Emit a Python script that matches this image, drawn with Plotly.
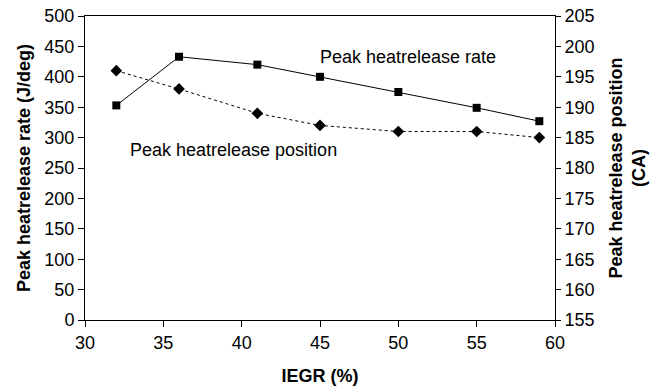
import plotly.graph_objects as go

iegr = [32, 36, 41, 45, 50, 55, 59]
hr_rate = [353, 433, 420, 400, 375, 349, 327]
hr_pos = [196, 193, 189, 187, 186, 186, 185]

font = "Liberation Sans, Arial, sans-serif"
FS = 18

fig = go.Figure()
fig.add_trace(go.Scatter(x=iegr, y=hr_rate, mode="lines+markers",
                         line=dict(color="black", width=1),
                         marker=dict(symbol="square", size=8, color="black"),
                         showlegend=False))
fig.add_trace(go.Scatter(x=iegr, y=hr_pos, mode="lines+markers", yaxis="y2",
                         line=dict(color="black", width=1, dash="dot"),
                         marker=dict(symbol="diamond", size=9, color="black"),
                         showlegend=False))

axis_common = dict(showgrid=False, zeroline=False, showline=True, linecolor="black",
                   linewidth=1, ticks="outside", ticklen=6, tickcolor="black",
                   automargin=False,
                   tickfont=dict(family=font, size=FS, color="black"))

fig.update_layout(
    width=661, height=387,
    margin=dict(l=85, r=106, t=16, b=67),
    paper_bgcolor="white", plot_bgcolor="white",
    font=dict(family=font, color="black"),
    xaxis=dict(range=[30, 60], dtick=5, mirror=True,
               title=dict(text="<b>IEGR (%)</b>", font=dict(family=font, size=FS), standoff=17),
               **axis_common),
    yaxis=dict(range=[0, 500], dtick=50,
               title=dict(text="<b>Peak heatrelease rate (J/deg)</b>", font=dict(family=font, size=FS), standoff=9),
               **axis_common),
    yaxis2=dict(range=[155, 205], dtick=5, overlaying="y", side="right",
                title=dict(text="<b>Peak heatrelease position<br>(CA)</b>", font=dict(family=font, size=FS), standoff=15),
                **{**axis_common, "ticklen": 5}),
    yaxis3=dict(range=[155, 205], dtick=5, overlaying="y", side="right", anchor="x",
                showgrid=False, zeroline=False, showline=False, ticks="inside", ticklen=5,
                automargin=False, tickcolor="black", showticklabels=False),
    annotations=[
        dict(x=50.6, y=432, xref="x", yref="y", text="Peak heatrelease rate", showarrow=False,
             font=dict(family=font, size=FS, color="black")),
        dict(x=39.5, y=280, xref="x", yref="y", text="Peak heatrelease position", showarrow=False,
             font=dict(family=font, size=FS, color="black")),
    ],
)

fig.write_html("out.html")
